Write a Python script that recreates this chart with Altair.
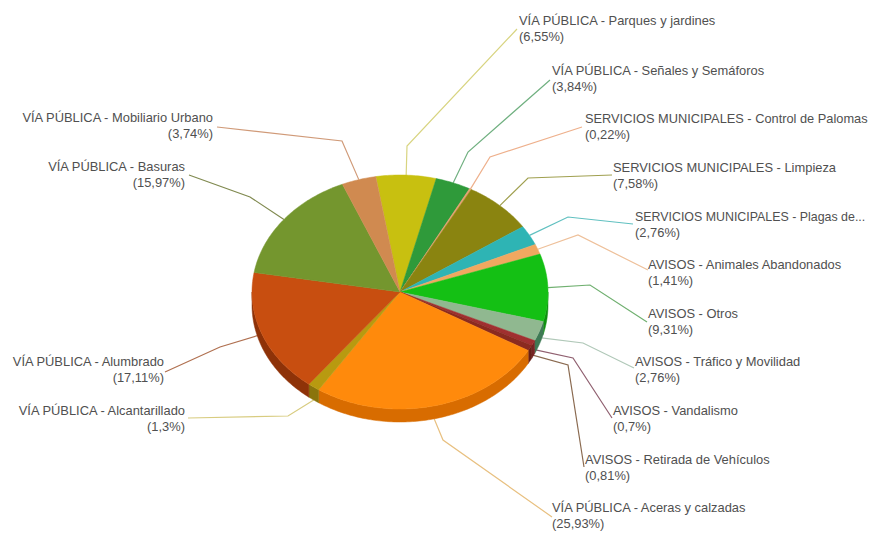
import math
import altair as alt
import pandas as pd

names = ["VÍA PÚBLICA - Parques y jardines", "VÍA PÚBLICA - Señales y Semáforos",
         "SERVICIOS MUNICIPALES - Control de Palomas", "SERVICIOS MUNICIPALES - Limpieza",
         "SERVICIOS MUNICIPALES - Plagas de...", "AVISOS - Animales Abandonados",
         "AVISOS - Otros", "AVISOS - Tráfico y Movilidad", "AVISOS - Vandalismo",
         "AVISOS - Retirada de Vehículos", "VÍA PÚBLICA - Aceras y calzadas",
         "VÍA PÚBLICA - Alcantarillado", "VÍA PÚBLICA - Alumbrado",
         "VÍA PÚBLICA - Basuras", "VÍA PÚBLICA - Mobiliario Urbano"]
shares = [6.55, 3.84, 0.22, 7.58, 2.76, 1.41, 9.31, 2.76, 0.7, 0.81, 25.93, 1.3, 17.11, 15.97, 3.74]
share_text = ["(6,55%)", "(3,84%)", "(0,22%)", "(7,58%)", "(2,76%)", "(1,41%)", "(9,31%)", "(2,76%)",
              "(0,7%)", "(0,81%)", "(25,93%)", "(1,3%)", "(17,11%)", "(15,97%)", "(3,74%)"]
colors = ["#c8c010", "#2f9a3a", "#e8a070", "#8a8410", "#2eb4b4", "#f0a860", "#14c014", "#90b890",
          "#a03030", "#8a2a20", "#ff8a0c", "#b89a10", "#c84e10", "#74962e", "#d08a50"]
rim_colors = ["#968f0c", "#23742c", "#ae7854", "#68630c", "#238787", "#b47e48", "#0f900f", "#3f7a55",
              "#782424", "#681f18", "#d86c00", "#8a740c", "#8e3208", "#576f22", "#9c683c"]
line_colors = ["#d8d480", "#70b080", "#eeb08c", "#a0a050", "#60c0c0", "#eec09a", "#70b070", "#b0c8b8",
               "#906070", "#8a6a50", "#e8c080", "#d8cc80", "#b07050", "#808a50", "#d09a78"]

# layout of the pie and the labels, in page pixels
cx, cy, rx, ry, depth, start_deg = 400, 292, 148, 117, 13, -9.4
elbows = [[(407, 146)], [(468, 152)], [(490, 157)], [(528, 178), (612, 175)], [(568, 217), (633, 224)],
          [(578, 235), (648, 270)], [(590, 285), (647, 322)], [(583, 343), (634, 368)], [(573, 358), (612, 418)],
          [(568, 365), (584, 467)], [(443, 440), (552, 517)], [(288, 416), (188, 418)],
          [(220, 347), (165, 372)], [(250, 197), (189, 175)], [(342, 141), (217, 127)]]
leader_end = [(517, 29), (550, 80), (582, 127), None, None, None, None, None, None, None, None, None, None, None, None]
label_x = [519, 552, 585, 613, 635, 648, 648, 635, 613, 585, 552, 185, 164, 185, 213]
label_y = [21, 71, 119, 168, 217, 265, 314, 362, 411, 460, 508, 411, 362, 167, 118]
label_size = [12.9, 12.9, 12.8, 12.9, 12.4, 12.9, 12.9, 12.9, 12.9, 12.9, 12.9, 12.9, 12.9, 12.9, 12.9]
line_gap = 15.5


def pt(t, dy=0.0):
    r = math.radians(t)
    return cx + rx * math.sin(r), cy - ry * math.cos(r) + dy


tops, rims, leaders, labels = [], [], [], []
acc = start_deg
for i, s in enumerate(shares):
    a0, a1 = acc, acc + s * 3.6
    acc = a1
    n = max(3, int(s * 4))
    key = f"{i:02d}"
    path = [(cx, cy)] + [pt(a0 + (a1 - a0) * k / n) for k in range(n + 1)] + [(cx, cy)]
    for o, (x, y) in enumerate(path):
        tops.append(dict(k=key, o=o, x=x, y=y))
    b0, b1 = max(a0, 90), min(a1, 270)
    if b1 > b0:
        arc = [b0 + (b1 - b0) * k / n for k in range(n + 1)]
        path = [pt(t) for t in arc] + [pt(t, depth) for t in reversed(arc)]
        path.append(path[0])
        for o, (x, y) in enumerate(path):
            rims.append(dict(k=key, o=o, x=x, y=y))
    mid = (a0 + a1) / 2
    drop = depth if 125 < mid < 230 else (depth / 2 if 100 < mid <= 125 else 0)
    path = [pt(mid, drop)] + elbows[i]
    if leader_end[i]:
        path.append(leader_end[i])
    for o, (x, y) in enumerate(path):
        leaders.append(dict(k=key, o=o, x=x, y=y))
    al = "right" if i >= 11 else "left"
    labels.append(dict(x=label_x[i], y=label_y[i], t=names[i], a=al, s=label_size[i]))
    labels.append(dict(x=label_x[i], y=label_y[i] + line_gap, t=share_text[i], a=al, s=12.9))

xs = alt.Scale(domain=[8, 870], nice=False, zero=False)
ys = alt.Scale(domain=[534, 8], nice=False, zero=False)
X = alt.X("x:Q", scale=xs, axis=None)
Y = alt.Y("y:Q", scale=ys, axis=None)
tdf, rdf, ldf = pd.DataFrame(tops), pd.DataFrame(rims), pd.DataFrame(leaders)

layers = []
for i in range(len(names)):
    key = f"{i:02d}"
    sub = ldf[ldf.k == key]
    layers.append(alt.Chart(sub).mark_line(stroke=line_colors[i], strokeWidth=1.2, clip=False)
                  .encode(x=X, y=Y, order="o:Q"))
for i in range(len(names)):
    key = f"{i:02d}"
    sub = rdf[rdf.k == key]
    if len(sub):
        layers.append(alt.Chart(sub).mark_line(fill=rim_colors[i], stroke=rim_colors[i], strokeWidth=0.5)
                      .encode(x=X, y=Y, order="o:Q"))
for i in range(len(names)):
    key = f"{i:02d}"
    sub = tdf[tdf.k == key]
    layers.append(alt.Chart(sub).mark_line(fill=colors[i], stroke=colors[i], strokeWidth=0.5)
                  .encode(x=X, y=Y, order="o:Q"))
for al in ["left", "right"]:
    sub = pd.DataFrame([l for l in labels if l["a"] == al])
    layers.append(alt.Chart(sub).mark_text(align=al, baseline="middle", font="Liberation Sans",
                                           color="#505050", clip=False)
                  .encode(x=X, y=Y, text="t:N", size=alt.Size("s:Q", scale=None, legend=None)))

chart = alt.layer(*layers).properties(width=862, height=526, padding=0, background="white",
                                      autosize=alt.AutoSizeParams(type="none")).configure_view(stroke=None)
chart.save("out.html", embed_options={"renderer": "svg", "actions": False})
